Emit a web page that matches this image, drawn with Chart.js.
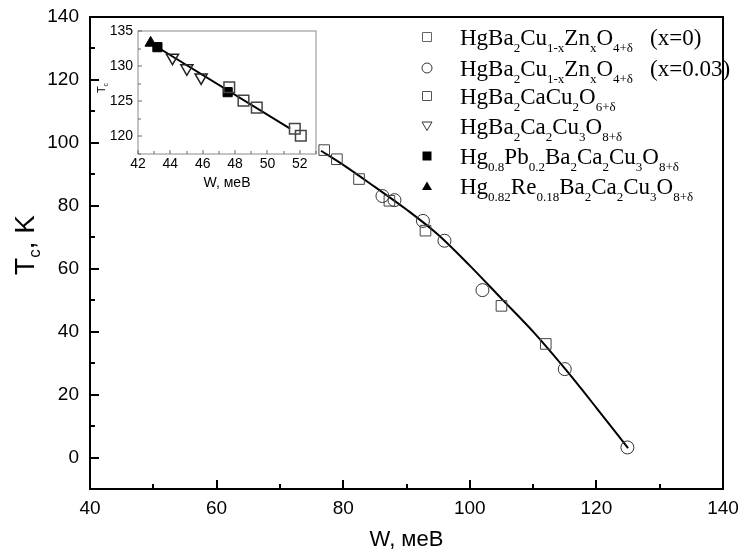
<!DOCTYPE html>
<html>
<head>
<meta charset="utf-8">
<script src="https://cdn.jsdelivr.net/npm/chart.js@4.4.1/dist/chart.umd.min.js"></script>
<style>
  html, body { margin: 0; padding: 0; background: #fff; }
  #wrap { position: relative; width: 740px; height: 560px; }
  #mainChart { position: absolute; left: 0; top: 0; }
  #insetChart { position: absolute; left: 95px; top: 22px; }
</style>
</head>
<body>
<div id="wrap">
  <canvas id="mainChart" width="740" height="560"></canvas>
  <canvas id="insetChart" width="230" height="175"></canvas>
</div>
<script>
// main panel: HgBa2Cu(1-x)ZnxO(4+d)
const zn0W  = [77, 79, 82.5, 87.3, 93, 105, 112];
const zn0Tc = [97.7, 94.8, 88.5, 81.6, 72.1, 48.2, 36.1];
const zn3W  = [86.2, 88.1, 92.6, 96, 102, 115, 124.9];
const zn3Tc = [83.1, 81.8, 75.2, 68.9, 53.2, 28.1, 3.2];
const fitW  = [76.5, 80, 85, 90, 95, 100, 105, 110, 115, 120, 125];
const fitTc = [97.5, 93, 86, 78.8, 70.8, 61, 50.5, 40, 28.3, 15.8, 3];

// inset
const ca2W  = [47.64, 48.52, 49.34, 51.69, 52.06];
const ca2Tc = [127.0, 125.1, 124.1, 121.1, 120.1];
const ca3W  = [44.13, 45.02, 45.9];
const ca3Tc = [131.2, 129.7, 128.4];
const pbW   = [43.2, 47.54];
const pbTc  = [132.7, 126.3];
const reW   = [42.78];
const reTc  = [133.3];
const insetFitW  = [42.7, 51.4];
const insetFitTc = [133.4, 121.1];

const legendLabels = [
  "HgBa_{2}Cu_{1-x}Zn_{x}O_{4+δ}",
  "HgBa_{2}Cu_{1-x}Zn_{x}O_{4+δ}",
  "HgBa_{2}CaCu_{2}O_{6+δ}",
  "HgBa_{2}Ca_{2}Cu_{3}O_{8+δ}",
  "Hg_{0.8}Pb_{0.2}Ba_{2}Ca_{2}Cu_{3}O_{8+δ}",
  "Hg_{0.82}Re_{0.18}Ba_{2}Ca_{2}Cu_{3}O_{8+δ}"
];
const legendNotes = ["(x=0)", "(x=0.03)", "", "", "", ""];

const SANS = "'Liberation Sans', Arial, sans-serif";
const SERIF = "'Liberation Serif', 'Times New Roman', serif";

const pts = (xs, ys) => xs.map((x, i) => ({ x: x, y: ys[i] }));

function drawRich(ctx, str, x, y, size, family, subScale, subDrop) {
  const re = /_\{([^}]*)\}/g;
  let last = 0, m;
  const parts = [];
  while ((m = re.exec(str))) {
    if (m.index > last) parts.push([str.slice(last, m.index), false]);
    parts.push([m[1], true]);
    last = re.lastIndex;
  }
  if (last < str.length) parts.push([str.slice(last), false]);
  for (const [t, sub] of parts) {
    ctx.font = (sub ? Math.round(size * subScale) : size) + "px " + family;
    ctx.fillText(t, x, sub ? y + size * subDrop : y);
    x += ctx.measureText(t).width;
  }
  return x;
}

function richWidth(ctx, str, size, family, subScale) {
  const re = /_\{([^}]*)\}|([^_]+)/g;
  let w = 0, m;
  while ((m = re.exec(str))) {
    const sub = m[1] !== undefined;
    ctx.font = (sub ? Math.round(size * subScale) : size) + "px " + family;
    w += ctx.measureText(sub ? m[1] : m[2]).width;
  }
  return w;
}

function drawMarker(ctx, shape, x, y, r, fill) {
  ctx.beginPath();
  if (shape === "rect") {
    ctx.rect(x - r, y - r, 2 * r, 2 * r);
  } else if (shape === "circle") {
    ctx.arc(x, y, r, 0, Math.PI * 2);
  } else if (shape === "down") {
    ctx.moveTo(x - r, y - r * 0.8);
    ctx.lineTo(x + r, y - r * 0.8);
    ctx.lineTo(x, y + r * 0.9);
    ctx.closePath();
  } else if (shape === "up") {
    ctx.moveTo(x - r, y + r * 0.8);
    ctx.lineTo(x + r, y + r * 0.8);
    ctx.lineTo(x, y - r * 0.9);
    ctx.closePath();
  }
  if (fill) ctx.fill(); else ctx.stroke();
}

// fixed scale boxes, no extra label padding
function fixBox(size) {
  return function (s) {
    if (s.isHorizontal()) s.height = size; else s.width = size;
    s.paddingLeft = 0; s.paddingRight = 0; s.paddingTop = 0; s.paddingBottom = 0;
  };
}

// frame box + inward ticks
const frameTicks = {
  id: "frameTicks",
  afterDatasetsDraw(chart, args, o) {
    const { ctx, chartArea: a } = chart;
    ctx.save();
    ctx.strokeStyle = o.color;
    ctx.lineWidth = o.lineWidth;
    ctx.strokeRect(a.left, a.top, a.width, a.height);
    ctx.strokeStyle = o.tickColor;
    ctx.lineWidth = o.tickWidth;
    ctx.beginPath();
    ["x", "y"].forEach(id => {
      const s = chart.scales[id], t = o[id];
      for (let v = Math.ceil(s.min / t.step) * t.step; v <= s.max + 1e-9; v += t.step) {
        const isMajor = Math.abs(v / t.major - Math.round(v / t.major)) < 1e-6;
        const len = isMajor ? t.len : t.minorLen;
        if (!len) continue;
        const p = Math.round(s.getPixelForValue(v));
        if (id === "x") { ctx.moveTo(p, a.bottom); ctx.lineTo(p, a.bottom - len); }
        else { ctx.moveTo(a.left, p); ctx.lineTo(a.left + len, p); }
      }
    });
    ctx.stroke();
    ctx.restore();
  }
};

// y title with subscript, plus the formula legend
const annotations = {
  id: "annotations",
  afterDraw(chart, args, o) {
    const ctx = chart.ctx;
    ctx.save();
    ctx.fillStyle = "#000";
    ctx.textBaseline = "alphabetic";
    ctx.textAlign = "left";
    const t = o.yTitle;
    const w = richWidth(ctx, t.text, t.size, SANS, t.subScale);
    ctx.translate(t.x, t.y);
    ctx.rotate(-Math.PI / 2);
    drawRich(ctx, t.text, -w / 2, t.size * 0.36, t.size, SANS, t.subScale, t.subDrop);
    ctx.restore();

    if (!o.legend) return;
    const L = o.legend;
    ctx.save();
    ctx.textBaseline = "alphabetic";
    ctx.textAlign = "left";
    L.labels.forEach((lab, i) => {
      const y = L.rows[i];
      ctx.strokeStyle = L.strokes[i];
      ctx.fillStyle = "#000";
      ctx.lineWidth = 1;
      drawMarker(ctx, L.shapes[i], L.symX, y, L.symR[i], L.filled[i]);
      drawRich(ctx, lab, L.textX, y + 8, L.size, SERIF, 0.57, 0.3);
      if (L.notes[i]) {
        ctx.font = L.size + "px " + SERIF;
        ctx.fillText(L.notes[i], L.noteX, y + 8);
      }
    });
    ctx.restore();
  }
};

const mainChart = new Chart(document.getElementById("mainChart"), {
  type: "scatter",
  data: {
    datasets: [
      {
        label: "x=0",
        data: pts(zn0W, zn0Tc),
        pointStyle: "rect",
        pointRadius: 7.5,
        borderColor: "#444",
        backgroundColor: "rgba(0,0,0,0)",
        borderWidth: 1,
        order: 1
      },
      {
        label: "x=0.03",
        data: pts(zn3W, zn3Tc),
        pointStyle: "circle",
        pointRadius: 6.5,
        borderColor: "#333",
        backgroundColor: "rgba(0,0,0,0)",
        borderWidth: 1,
        order: 2
      },
      {
        label: "fit",
        data: pts(fitW, fitTc),
        showLine: true,
        cubicInterpolationMode: "monotone",
        pointRadius: 0,
        borderColor: "#000",
        borderWidth: 2,
        order: 3
      }
    ]
  },
  options: {
    responsive: false,
    animation: false,
    devicePixelRatio: 1,
    layout: { padding: { top: 17, right: 17, left: 0, bottom: 0 } },
    plugins: {
      legend: { display: false },
      tooltip: { enabled: false },
      frameTicks: {
        color: "#000", lineWidth: 2, tickColor: "#000", tickWidth: 2,
        x: { step: 10, major: 20, len: 9, minorLen: 5 },
        y: { step: 10, major: 20, len: 9, minorLen: 5 }
      },
      annotations: {
        yTitle: { text: "T_{c}, K", x: 24, y: 245, size: 28, subScale: 0.6, subDrop: 0.22 },
        legend: {
          labels: legendLabels,
          notes: legendNotes,
          rows: [37, 68, 96, 126, 156, 186],
          shapes: ["rect", "circle", "rect", "down", "rect", "up"],
          filled: [false, false, false, false, true, true],
          strokes: ["#666", "#333", "#555", "#333", "#000", "#000"],
          symR: [4.5, 5, 4.5, 5, 4.5, 5],
          symX: 427,
          textX: 460,
          noteX: 650,
          size: 23
        }
      }
    },
    scales: {
      x: {
        type: "linear",
        min: 40, max: 140,
        grid: { display: false, drawTicks: false },
        border: { display: false },
        ticks: { stepSize: 20, color: "#000", font: { family: SANS, size: 19 }, padding: 8, maxRotation: 0 },
        title: { display: true, text: "W, меВ", color: "#000", font: { family: SANS, size: 22 }, padding: { top: 0, bottom: 7 } },
        afterFit: fixBox(71)
      },
      y: {
        type: "linear",
        min: -10, max: 140,
        grid: { display: false, drawTicks: false },
        border: { display: false },
        ticks: { stepSize: 20, color: "#000", font: { family: SANS, size: 19 }, padding: 11,
                 callback: v => (v < 0 ? "" : v) },
        afterFit: fixBox(90)
      }
    }
  },
  plugins: [frameTicks, annotations]
});

const insetChart = new Chart(document.getElementById("insetChart"), {
  type: "scatter",
  data: {
    datasets: [
      {
        label: "HgBa2CaCu2O6",
        data: pts(ca2W, ca2Tc),
        pointStyle: "rect",
        pointRadius: 7.5,
        borderColor: "#444",
        backgroundColor: "rgba(255,255,255,0)",
        borderWidth: 1.5,
        order: 1
      },
      {
        label: "HgBa2Ca2Cu3O8",
        data: pts(ca3W, ca3Tc),
        pointStyle: "triangle",
        rotation: 180,
        pointRadius: 7,
        borderColor: "#222",
        backgroundColor: "rgba(255,255,255,0)",
        borderWidth: 1.5,
        order: 2
      },
      {
        label: "Pb",
        data: pts(pbW, pbTc),
        pointStyle: "rect",
        pointRadius: 6.5,
        borderColor: "#000",
        backgroundColor: "#000",
        borderWidth: 1,
        order: 3
      },
      {
        label: "Re",
        data: pts(reW, reTc),
        pointStyle: "triangle",
        pointRadius: 6.5,
        borderColor: "#000",
        backgroundColor: "#000",
        borderWidth: 1,
        order: 4
      },
      {
        label: "fit",
        data: pts(insetFitW, insetFitTc),
        showLine: true,
        pointRadius: 0,
        borderColor: "#000",
        borderWidth: 2,
        order: 5
      }
    ]
  },
  options: {
    responsive: false,
    animation: false,
    devicePixelRatio: 1,
    layout: { padding: { top: 8, right: 7, left: 0, bottom: 0 } },
    plugins: {
      legend: { display: false },
      tooltip: { enabled: false },
      frameTicks: {
        color: "#8a8a8a", lineWidth: 1, tickColor: "#666", tickWidth: 1,
        x: { step: 1, major: 2, len: 4, minorLen: 3 },
        y: { step: 2.5, major: 5, len: 4, minorLen: 3 }
      },
      annotations: {
        yTitle: { text: "T_{c}", x: 6, y: 66, size: 11, subScale: 0.6, subDrop: 0.25 }
      }
    },
    scales: {
      x: {
        type: "linear",
        min: 42, max: 53,
        grid: { display: false, drawTicks: false },
        border: { display: false },
        ticks: { stepSize: 1, autoSkip: false, color: "#000", font: { family: SANS, size: 14 }, padding: 2, maxRotation: 0,
                 callback: v => (v % 2 === 0 && v <= 52 ? v : "") },
        title: { display: true, text: "W, меВ", color: "#000", font: { family: SANS, size: 14 }, padding: { top: 0, bottom: 5 } },
        afterFit: fixBox(43)
      },
      y: {
        type: "linear",
        min: 117.5, max: 135,
        grid: { display: false, drawTicks: false },
        border: { display: false },
        ticks: { stepSize: 5, autoSkip: false, color: "#000", font: { family: SANS, size: 14 }, padding: 5,
                 callback: v => (v % 5 === 0 ? v : "") },
        afterFit: fixBox(43)
      }
    }
  },
  plugins: [frameTicks, annotations]
});
</script>
</body>
</html>
